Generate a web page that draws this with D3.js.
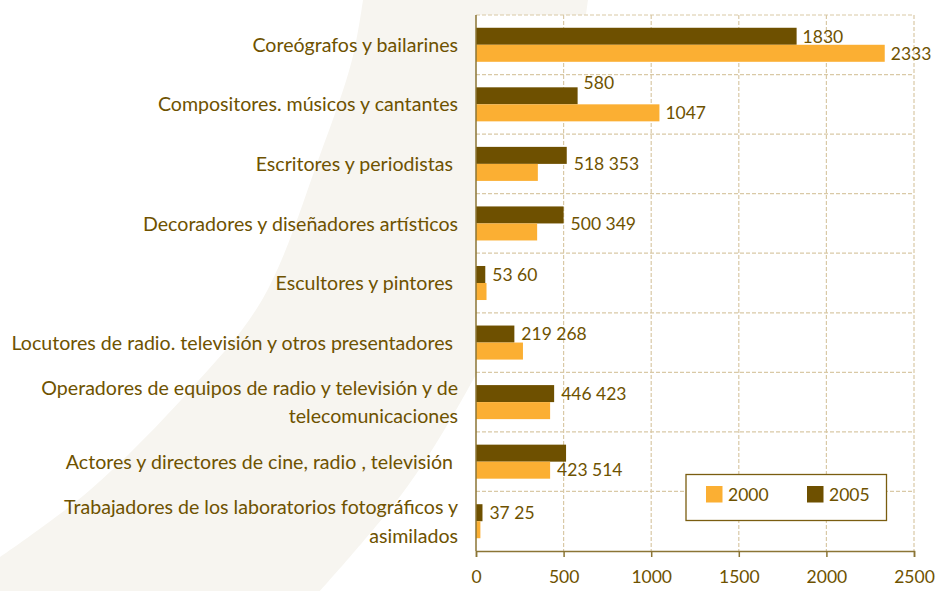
<!DOCTYPE html>
<html>
<head>
<meta charset="utf-8">
<script src="https://cdn.jsdelivr.net/npm/d3@7"></script>
<style>
  html, body { margin: 0; padding: 0; background: #ffffff; }
  svg { display: block; }
  text { font-family: "Lato", "Open Sans", sans-serif; fill: #6e5200; }
</style>
</head>
<body>
<svg id="chart" width="936" height="591"></svg>
<script>
// ---------- data ----------
const categories = [
  "Coreógrafos y bailarines",
  "Compositores. músicos y cantantes",
  "Escritores y periodistas ",
  "Decoradores y diseñadores artísticos",
  "Escultores y pintores ",
  "Locutores de radio. televisión y otros presentadores ",
  "Operadores de equipos de radio y televisión y de\ntelecomunicaciones",
  "Actores y directores de cine, radio , televisión ",
  "Trabajadores de los laboratorios fotográficos y\nasimilados"
];
const seriesNames = ["2005", "2000"];          // top bar, bottom bar
const values2005 = [1830, 580, 518, 500, 53, 219, 446, 514, 37];
const values2000 = [2333, 1047, 353, 349, 60, 268, 423, 423, 25];
const xTicks = [0, 500, 1000, 1500, 2000, 2500];
const legendOrder = ["2000", "2005"];
// how the value labels are grouped (as in the original chart)
const labelPlan = [
  { mode: "split" },
  { mode: "split", raise: "2005" },
  { mode: "inline", lead: "2005", row: "mid" },
  { mode: "inline", lead: "2005", row: "mid" },
  { mode: "inline", lead: "2005", row: "2005" },
  { mode: "inline", lead: "2005", row: "2005" },
  { mode: "inline", lead: "2005", row: "2005" },
  { mode: "inline", lead: "2000", row: "2000" },
  { mode: "inline", lead: "2005", row: "2005" }
];

// ---------- style ----------
const colors = { "2000": "#fbaf33", "2005": "#6e5000" };
const textColor = "#6e5200";
const gridColor = "#d9c9a6";
const axisColor = "#8b7535";
const fontSize = 17.5;
const catFontSize = 19.6;

const rows = categories.map((c, i) => ({ cat: c, "2005": values2005[i], "2000": values2000[i], plan: labelPlan[i] }));

const svg = d3.select("#chart");
const plot = { left: 476, right: 914, top: 15, bottom: 551 };

// background swoosh
const outer = [[0, 557], [90, 490], [190, 390], [262, 300], [320, 155], [352, 60], [363, 0]];
const inner = [[588, 0], [565, 140], [525, 275], [473, 380], [407, 487], [320, 591]];
const lineGen = d3.line().curve(d3.curveCatmullRom.alpha(0.5));
const innerPath = lineGen(inner);
const outerPath = lineGen(outer).replace(/^M/, "L");
svg.append("path")
  .attr("d", innerPath + "L0,591" + outerPath + "Z")
  .attr("fill", "#f7f5f0");

// plot background
svg.append("rect")
  .attr("x", plot.left).attr("y", plot.top)
  .attr("width", plot.right - plot.left).attr("height", plot.bottom - plot.top)
  .attr("fill", "#ffffff");

const x = d3.scaleLinear().domain([0, 2500]).range([plot.left, plot.right]);
const y = d3.scaleBand().domain(categories).range([plot.top, plot.bottom]).paddingInner(0).paddingOuter(0);
const ySub = d3.scaleBand().domain(seriesNames).range([0, y.bandwidth()]).paddingInner(0).paddingOuter(0.75);

// grid
const grid = svg.append("g");
grid.selectAll("line.v").data(xTicks.filter(t => t > 0)).join("line")
  .attr("x1", d => x(d)).attr("x2", d => x(d))
  .attr("y1", plot.top).attr("y2", plot.bottom)
  .attr("stroke", gridColor).attr("stroke-width", 1.2).attr("stroke-dasharray", "4,2");
const hLines = categories.map(c => y(c));
grid.selectAll("line.h").data(hLines).join("line")
  .attr("x1", plot.left).attr("x2", plot.right)
  .attr("y1", d => d).attr("y2", d => d)
  .attr("stroke", gridColor).attr("stroke-width", 1.2).attr("stroke-dasharray", "4,2");

// bars
const groups = svg.append("g").selectAll("g").data(rows).join("g")
  .attr("transform", d => `translate(0,${y(d.cat)})`);
groups.selectAll("rect").data(d => seriesNames.map(s => ({ s, v: d[s] }))).join("rect")
  .attr("x", x(0))
  .attr("y", d => ySub(d.s))
  .attr("width", d => x(d.v) - x(0))
  .attr("height", ySub.bandwidth())
  .attr("fill", d => colors[d.s]);

// value labels
const gap = 6;
groups.each(function (d) {
  const g = d3.select(this);
  const p = d.plan;
  const bw = ySub.bandwidth();
  if (p.mode === "split") {
    seriesNames.forEach(s => {
      let cy = ySub(s) + bw / 2;
      if (p.raise === s) cy = ySub(s) - 5;
      g.append("text")
        .attr("x", x(d[s]) + gap)
        .attr("y", cy)
        .attr("dy", "0.36em")
        .attr("font-size", fontSize)
        .text(d3.format("d")(d[s]));
    });
  } else {
    const other = seriesNames.find(s => s !== p.lead);
    let cy;
    if (p.row === "mid") cy = ySub(seriesNames[1]);
    else cy = ySub(p.row) + bw / 2;
    g.append("text")
      .attr("x", x(d[p.lead]) + gap + 1)
      .attr("y", cy)
      .attr("dy", "0.36em")
      .attr("font-size", fontSize)
      .text(d[p.lead] + " " + d[other]);
  }
});

// axes lines
const xAxis = d3.axisBottom(x).tickValues(xTicks).tickSize(6).tickPadding(14).tickFormat(d3.format("d"));
const gx = svg.append("g").attr("transform", `translate(0,${plot.bottom})`).call(xAxis);
gx.select(".domain").attr("stroke", axisColor).attr("stroke-width", 1.5);
gx.selectAll(".tick line").attr("stroke", axisColor).attr("stroke-width", 1.5);
gx.selectAll(".tick text").attr("font-size", fontSize).attr("fill", textColor)
  .style("font-family", "Lato, 'Open Sans', sans-serif");

svg.append("line")
  .attr("x1", plot.left).attr("x2", plot.left)
  .attr("y1", plot.top).attr("y2", plot.bottom)
  .attr("stroke", axisColor).attr("stroke-width", 1.5);

// category labels
const yAxisG = svg.append("g");
categories.forEach(c => {
  const lines = c.split("\n");
  const cy = y(c) + y.bandwidth() / 2;
  const lh = 28.5;
  const t = yAxisG.append("text")
    .attr("text-anchor", "end")
    .attr("font-size", catFontSize)
    .style("white-space", "pre");
  lines.forEach((ln, k) => {
    t.append("tspan")
      .attr("x", 458)
      .attr("y", cy + (k - (lines.length - 1) / 2) * lh)
      .attr("dy", "0.36em")
      .text(ln);
  });
});

// legend
const lg = svg.append("g");
lg.append("rect")
  .attr("x", 686).attr("y", 474.5).attr("width", 200.5).attr("height", 46)
  .attr("fill", "#ffffff").attr("stroke", "#7a5d10").attr("stroke-width", 1.3);
const legendX = d3.scalePoint().domain(legendOrder).range([706, 807]);
const li = lg.selectAll("g").data(legendOrder).join("g")
  .attr("transform", d => `translate(${legendX(d)},486)`);
li.append("rect").attr("width", 16.5).attr("height", 16.5).attr("fill", d => colors[d]);
li.append("text").attr("x", 22).attr("y", 8.5).attr("dy", "0.36em")
  .attr("font-size", fontSize).text(d => d);
</script>
</body>
</html>
